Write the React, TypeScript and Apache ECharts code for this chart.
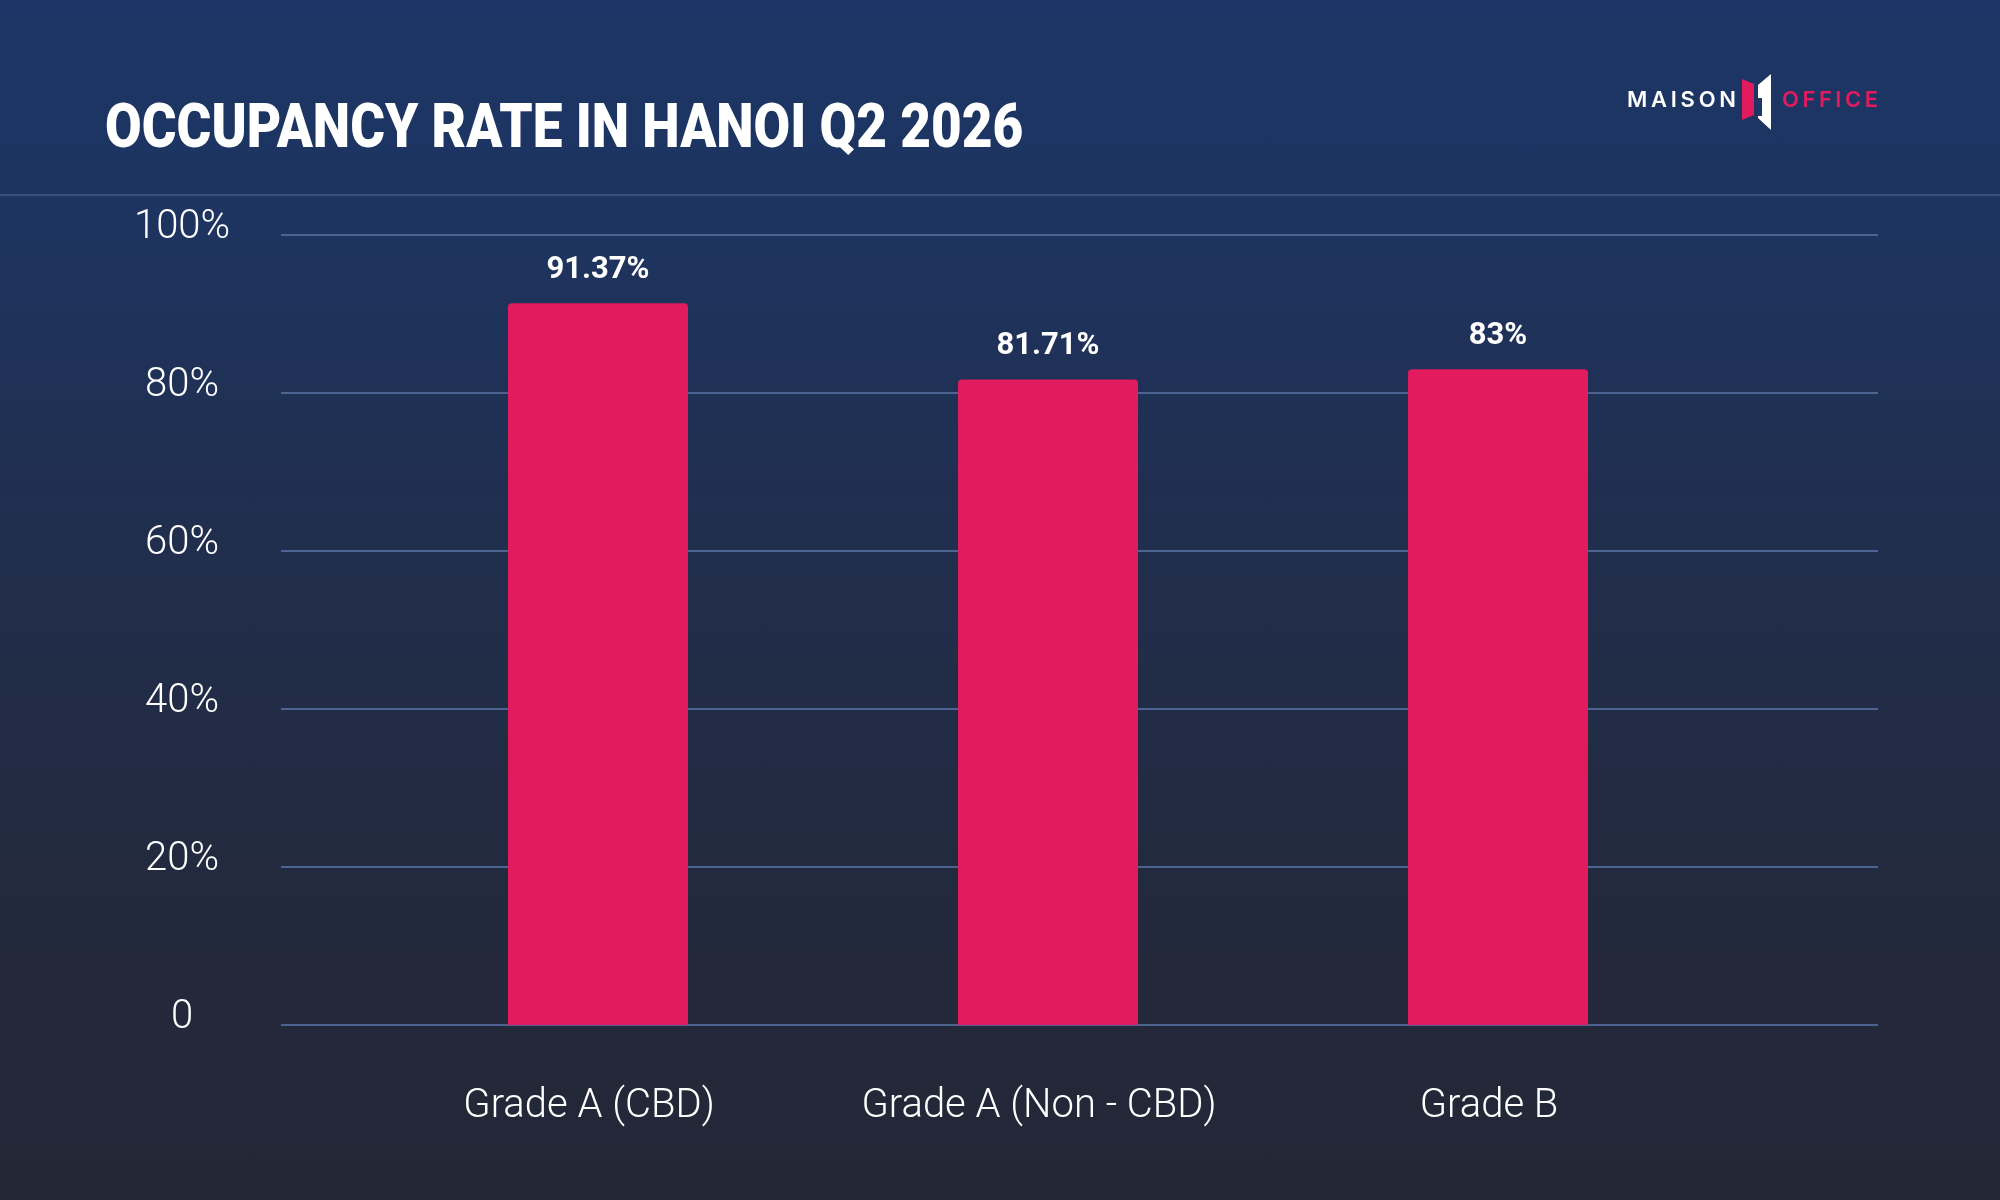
import React, { useEffect, useRef } from 'react';
import * as echarts from 'echarts';

// Occupancy by office grade (percent)
const categories = ['Grade A (CBD)', 'Grade A (Non - CBD)', 'Grade B'];
const occupancy = [91.37, 81.71, 83];

// Value axis ticks
const yMin = 0;
const yMax = 100;
const yStep = 20;

const titleText = 'OCCUPANCY RATE IN HANOI Q2 2026';
const brandLeft = 'MAISON';
const brandRight = 'OFFICE';

const PINK = '#e11b5e';

let measureCtx: CanvasRenderingContext2D | null = null;
function measure(text: string, font: string): number {
  if (!measureCtx) measureCtx = document.createElement('canvas').getContext('2d');
  measureCtx!.font = font;
  return measureCtx!.measureText(text).width;
}

// Lay a word out letter by letter so it spans x0..x1 (tracked logo type)
function spacedLetters(word: string, font: string, x0: number, x1: number, y: number, fill: string) {
  const chars = word.split('');
  const widths = chars.map((ch) => measure(ch, font));
  const total = widths.reduce((a, b) => a + b, 0);
  const gap = (x1 - x0 - total) / (chars.length - 1);
  let x = x0;
  return chars.map((ch, i) => {
    const el = {
      type: 'text',
      x,
      y,
      silent: true,
      style: { text: ch, font, fill, align: 'left', verticalAlign: 'middle' },
    };
    x += widths[i] + gap;
    return el;
  });
}

export default function App() {
  const ref = useRef<HTMLDivElement>(null);

  useEffect(() => {
    if (!ref.current) return;
    const chart = echarts.init(ref.current, undefined, { renderer: 'svg' });

    const titleFont = '900 62px Roboto';
    const titleScale = 919 / measure(titleText, titleFont);
    const logoFont = '600 22px Inter';

    const background = {
      type: 'rect',
      z: -100,
      silent: true,
      shape: { x: 0, y: 0, width: 2000, height: 1200 },
      style: {
        fill: new echarts.graphic.LinearGradient(0, 0, 0, 1, [
          { offset: 0, color: '#1b3666' },
          { offset: 0.18, color: '#1e3460' },
          { offset: 0.5, color: '#212d4a' },
          { offset: 0.8, color: '#23293b' },
          { offset: 1, color: '#232837' },
        ]),
      },
    };

    const option: any = {
      animation: false,
      graphic: [
        background,
        {
          type: 'line',
          silent: true,
          shape: { x1: 0, y1: 195, x2: 2000, y2: 195 },
          style: { stroke: '#425a8a', lineWidth: 1.5 },
        },
        {
          type: 'text',
          x: 105,
          y: 126,
          scaleX: titleScale,
          silent: true,
          style: { text: titleText, font: titleFont, fill: '#ffffff', align: 'left', verticalAlign: 'middle' },
        },
        ...spacedLetters(brandLeft, logoFont, 1627, 1736, 99, '#ffffff'),
        ...spacedLetters(brandRight, logoFont, 1782, 1878, 99, PINK),
        {
          type: 'polygon',
          silent: true,
          shape: { points: [[1742, 79], [1754, 84], [1754, 115], [1742, 120]] },
          style: { fill: PINK },
        },
        {
          type: 'polygon',
          silent: true,
          shape: { points: [[1758, 85], [1771, 74], [1771, 130], [1758, 118]] },
          style: { fill: '#ffffff' },
        },
        {
          type: 'polygon',
          silent: true,
          shape: { points: [[1758, 98], [1762, 98], [1762, 116], [1758, 116]] },
          style: { fill: '#1d3766' },
        },
      ],
      grid: [
        { left: 281, right: 122, top: 235, bottom: 175 },
        { left: 373, right: 277, top: 235, bottom: 175 },
      ],
      xAxis: [
        { gridIndex: 0, type: 'category', data: categories, show: false },
        {
          gridIndex: 1,
          type: 'category',
          data: categories,
          axisLine: { show: false },
          axisTick: { show: false },
          axisLabel: {
            interval: 0,
            hideOverlap: false,
            color: '#ffffff',
            fontFamily: 'Roboto',
            fontWeight: 300,
            fontSize: 40,
            margin: 58,
            padding: [0, 18, 0, 0],
          },
        },
      ],
      yAxis: [
        {
          gridIndex: 0,
          type: 'value',
          min: yMin,
          max: yMax,
          interval: yStep,
          axisLine: { show: false },
          axisTick: { show: false },
          splitLine: { lineStyle: { color: '#4d6392', width: 2 } },
          axisLabel: {
            formatter: (v: number) => (v === 0 ? '0' : `${v}%`),
            color: '#ffffff',
            fontFamily: 'Roboto',
            fontWeight: 300,
            fontSize: 40,
            align: 'center',
            verticalAlign: 'bottom',
            lineHeight: 22,
            margin: 99,
          },
        },
        { gridIndex: 1, type: 'value', min: yMin, max: yMax, interval: yStep, show: false },
      ],
      series: [
        {
          type: 'bar',
          xAxisIndex: 1,
          yAxisIndex: 1,
          data: occupancy,
          barWidth: 180,
          itemStyle: { color: PINK, borderRadius: [4, 4, 0, 0] },
          label: {
            show: true,
            position: 'top',
            distance: 20,
            color: '#ffffff',
            fontFamily: 'Roboto',
            fontWeight: 'bold',
            fontSize: 31,
            formatter: (p: any) => `${p.value}%`,
          },
        },
      ],
    };

    chart.setOption(option);
    return () => chart.dispose();
  }, []);

  return (
    <div
      ref={ref}
      style={{ position: 'fixed', left: 0, top: 0, width: 2000, height: 1200 }}
    />
  );
}
